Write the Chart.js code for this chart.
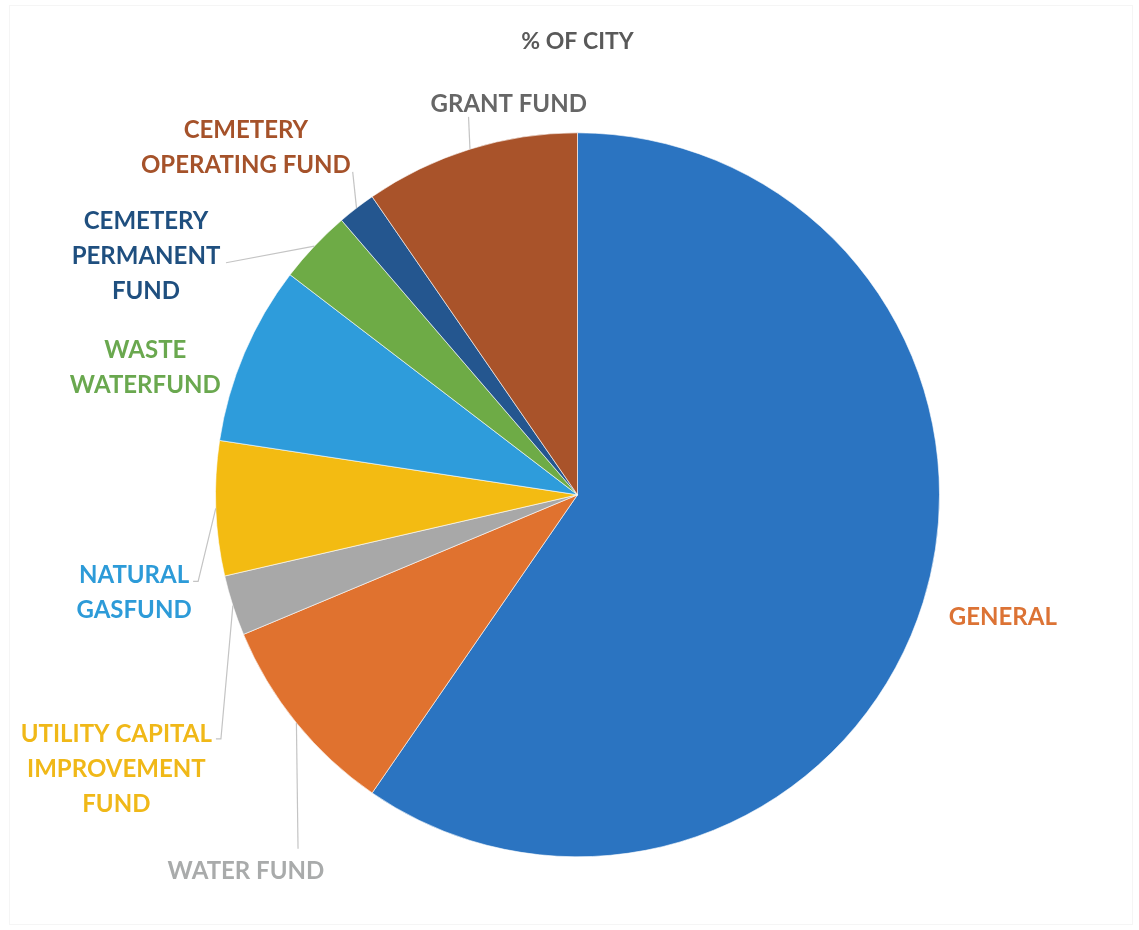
<!DOCTYPE html>
<html>
<head>
<meta charset="utf-8">
<title>% OF CITY</title>
<script src="https://cdn.jsdelivr.net/npm/chart.js@4/dist/chart.umd.min.js"></script>
<style>
    html, body { margin: 0; padding: 0; background: #ffffff; }
    #wrap { width: 1139px; height: 930px; position: relative; }
</style>
</head>
<body>
<div id="wrap"><canvas id="chart" width="1139" height="930"></canvas></div>
<script>
// --- data (share of the city budget, %) ---
const categories = ['GENERAL', 'WATER FUND', 'UTILITY CAPITAL IMPROVEMENT FUND', 'NATURAL GASFUND',
    'WASTE WATERFUND', 'CEMETERY PERMANENT FUND', 'CEMETERY OPERATING FUND', 'GRANT FUND'];
const shares = [59.6, 9.1, 2.7, 6.0, 8.0, 3.3, 1.7, 9.6];

// how each label is broken over lines in the original
const labelLines = [
    ['GENERAL'],
    ['WATER FUND'],
    ['UTILITY CAPITAL', 'IMPROVEMENT', 'FUND'],
    ['NATURAL', 'GASFUND'],
    ['WASTE', 'WATERFUND'],
    ['CEMETERY', 'PERMANENT', 'FUND'],
    ['CEMETERY', 'OPERATING FUND'],
    ['GRANT FUND']
];

// --- styles ---
const sliceColors = ['#2b74c1', '#e0722f', '#a8a8a8', '#f3bb12', '#2e9cdb', '#6eab46', '#24568f', '#a9532a'];
// the original colours each label with the next colour of the palette
const labelColors = ['#dc7335', '#a9abab', '#f0b818', '#2d9bd8', '#6aa84f', '#1f4f7f', '#a5522a', '#666666'];

// label centres and leader elbows, in units of the pie radius from the pie centre
const labelSpots = [[1.175, 0.330], [-0.916, 1.033], [-1.274, 0.749], [-1.225, 0.262],
    [-1.194, -0.360], [-1.192, -0.666], [-0.916, -0.966], [-0.190, -1.088]];
const leaderElbows = [null, [-0.772, 0.978], [-0.985, 0.674], [-1.048, 0.239],
    null, [-0.971, -0.641], [-0.621, -0.892], [-0.301, -1.044]];
const leaderTicks = [0, 0, 5, 5, 0, 0, 0, 0]; // short horizontal stub at the label end

const FONT = 'Lato, "Open Sans", sans-serif';
const LINE_H = 35;
const TEXT_DROP = 3; // Lato sits a little high against the original's Calibri

// draws the outside labels and their leader lines from the arc geometry
const outsideLabels = {
    id: 'outsideLabels',
    afterDatasetsDraw (chart) {
        const ctx = chart.ctx;
        const arcs = chart.getDatasetMeta(0).data;

        // very faint frame round the whole chart
        ctx.save();
        ctx.strokeStyle = '#f5f5f5';
        ctx.lineWidth = 1;
        ctx.strokeRect(9.5, 5.5, chart.width - 16, chart.height - 11);
        ctx.restore();

        arcs.forEach(function (arc, i) {
            const cx = arc.x, cy = arc.y, r = arc.outerRadius;
            const mid = (arc.startAngle + arc.endAngle) / 2;

            // leader line from the middle of the arc to the label
            const elbow = leaderElbows[i];
            if (elbow) {
                const ex = cx + elbow[0] * r, ey = cy + elbow[1] * r;
                ctx.save();
                ctx.strokeStyle = '#c4c4c4';
                ctx.lineWidth = 1.2;
                ctx.beginPath();
                ctx.moveTo(cx + Math.cos(mid) * r, cy + Math.sin(mid) * r);
                ctx.lineTo(ex, ey);
                if (leaderTicks[i]) ctx.lineTo(ex - leaderTicks[i], ey);
                ctx.stroke();
                ctx.restore();
            }

            // the label itself, centred on its spot
            const lines = labelLines[i];
            const lx = cx + labelSpots[i][0] * r;
            const ly = cy + labelSpots[i][1] * r - (lines.length - 1) * LINE_H / 2 + TEXT_DROP;
            ctx.save();
            ctx.font = 'bold 24px ' + FONT;
            ctx.fillStyle = labelColors[i];
            ctx.textAlign = 'center';
            ctx.textBaseline = 'middle';
            lines.forEach(function (t, k) { ctx.fillText(t, lx, ly + k * LINE_H); });
            ctx.restore();
        });
    }
};

new Chart(document.getElementById('chart'), {
    type: 'pie',
    data: {
        labels: categories,
        datasets: [{
            data: shares,
            backgroundColor: sliceColors,
            borderColor: 'rgba(255,255,255,0.6)',
            borderWidth: 1
        }]
    },
    options: {
        responsive: false,
        animation: false,
        layout: { padding: { top: 0, bottom: 72, left: 215, right: 199 } },
        plugins: {
            legend: { display: false },
            tooltip: { enabled: false },
            title: {
                display: true,
                text: '% OF CITY',
                color: '#595959',
                font: { family: FONT, size: 23, weight: 'bold', lineHeight: 1.2 },
                padding: { top: 28, bottom: 76 }
            }
        }
    },
    plugins: [outsideLabels]
});
</script>
</body>
</html>
